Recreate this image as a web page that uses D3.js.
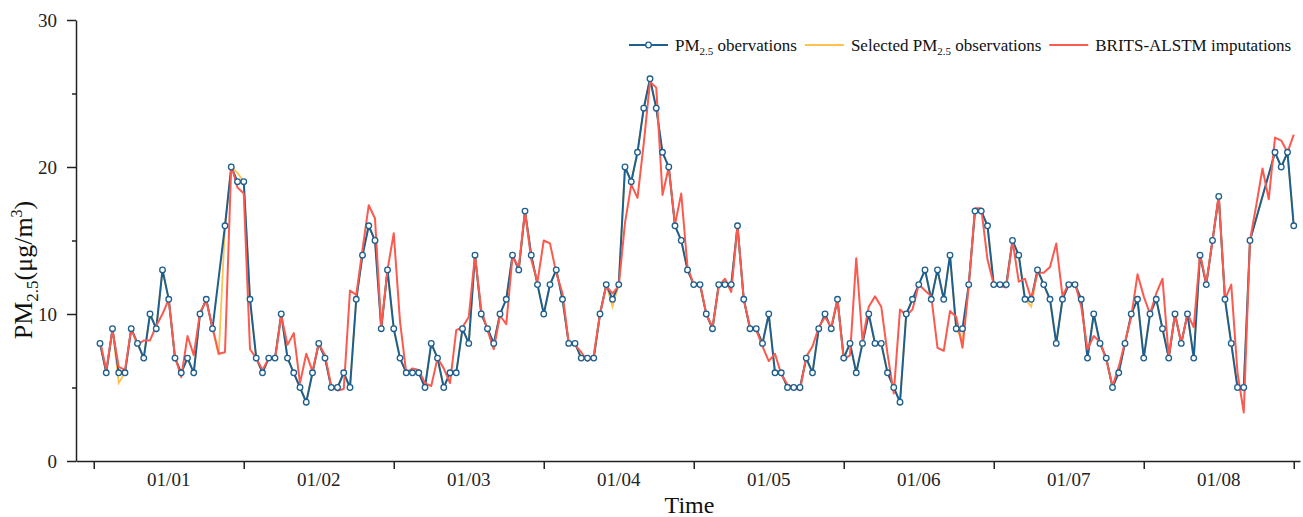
<!DOCTYPE html>
<html>
<head>
<meta charset="utf-8">
<title>PM2.5 imputation</title>
<script src="https://cdn.jsdelivr.net/npm/d3@7/dist/d3.min.js"></script>
<style>
    body { margin: 0; background: #fff; }
    svg { display: block; }
    .axis path, .axis line { stroke: #222; stroke-width: 1.5; }
</style>
</head>
<body>
<svg id="chart" width="1303" height="517"></svg>
<script>
// hourly values, hour 1 .. 192 (8 days)
var dayLabels = ['01/01', '01/02', '01/03', '01/04', '01/05', '01/06', '01/07', '01/08'];
var yTicks = [0, 10, 20, 30];
var yMinorTicks = [5, 15, 25];

var observations = [
    8, 6, 9, 6, 6, 9, 8, 7, 10, 9, 13, 11, 7, 6, 7, 6, 10, 11, 9, null, 16, 20, 19, 19,
    11, 7, 6, 7, 7, 10, 7, 6, 5, 4, 6, 8, 7, 5, 5, 6, 5, 11, 14, 16, 15, 9, 13, 9,
    7, 6, 6, 6, 5, 8, 7, 5, 6, 6, 9, 8, 14, 10, 9, 8, 10, 11, 14, 13, 17, 14, 12, 10,
    12, 13, 11, 8, 8, 7, 7, 7, 10, 12, 11, 12, 20, 19, 21, 24, 26, 24, 21, 20, 16, 15, 13, 12,
    12, 10, 9, 12, 12, 12, 16, 11, 9, 9, 8, 10, 6, 6, 5, 5, 5, 7, 6, 9, 10, 9, 11, 7,
    8, 6, 8, 10, 8, 8, 6, 5, 4, 10, 11, 12, 13, 11, 13, 11, 14, 9, 9, 12, 17, 17, 16, 12,
    12, 12, 15, 14, 11, 11, 13, 12, 11, 8, 11, 12, 12, 11, 7, 10, 8, 7, 5, 6, 8, 10, 11, 7,
    10, 11, 9, 7, 10, 8, 10, 7, 14, 12, 15, 18, 11, 8, 5, 5, 15, null, null, null, 21, 20, 21, 16
];

var selected = [
    8, 6, 9, 5.3, 6, 9, 8, 7, 10, 9, 13, 11, 7, 6, 7, 6, 10, 11, 9, 7.2, 16, 20, 19.6, 19,
    11, 7, 6, 7, 7, 10, 7, 6, 5, 4, 6, 8, 7, 5, 5, 6, 5, 11, 14, 16, 15, 9, 13, 9,
    7, 6, 6, 6, 5, 8, 7, 5, 6, 6, 9, 8, 14, 10, 9, 8, 10, 11, 14, 13, 17, 14, 12, 10,
    12, 13, 11, 8, 8, 7, 7, 7, 10, 12, 10.5, 12, 20, 19, 21, 24, 26, 24, 21, 20, 16, 15, 13, 12,
    12, 10, 9, 12, 12, 12, 16, 11, 9, 9, 8, 10, 6, 6, 5, 5, 5, 7, 6, 9, 10, 9, 11, 7,
    8, 6, 8, 10, 8, 8, 6, 5, 4, 10, 11, 12, 13, 11, 13, 11, 14, 9, 8.2, 12, 17, 17, 16, 12,
    12, 12, 15, 14, 11, 10.5, 13, 12, 11, 8, 11, 12, 12, 11, 7, 10, 8, 7, 5, 6, 8, 10, 11, 7,
    10, 11, 9, 7, 10, 8, 10, 7, 14, 12, 15, 18, 11, 8, 5, 5, 15, null, null, null, 21, 20, 21, 16
];

var imputations = [
    8.2, 6.2, 8.9, 6.4, 6.2, 9.0, 7.9, 8.2, 8.2, 9.2, 10.0, 11.0, 7.1, 5.7, 8.5, 7.2, 10.1, 10.9, 9.1, 7.3, 7.4, 20.1, 18.6, 18.2,
    7.6, 7.0, 6.2, 7.0, 6.9, 9.9, 7.9, 8.7, 5.3, 7.3, 6.1, 8.0, 7.2, 5.1, 4.8, 4.9, 11.6, 11.3, 14.4, 17.4, 16.5, 9.1, 13.0, 15.5,
    9.5, 6.0, 6.3, 6.2, 5.3, 5.1, 7.0, 6.3, 5.3, 8.9, 9.1, 9.8, 14.0, 10.3, 8.9, 7.6, 9.9, 9.3, 13.9, 13.2, 17.0, 13.7, 12.2, 15.0,
    14.8, 12.8, 11.4, 8.0, 7.9, 7.4, 6.8, 7.2, 10.0, 11.9, 11.4, 11.9, 16.2, 18.8, 17.9, 21.6, 25.8, 25.4, 18.1, 20.0, 16.1, 18.2, 13.2, 12.0,
    12.1, 10.0, 9.1, 11.9, 12.4, 11.5, 16.0, 11.0, 9.1, 8.9, 7.8, 6.8, 7.3, 5.9, 5.2, 5.0, 4.8, 7.1, 7.8, 9.1, 9.8, 9.1, 11.0, 6.9,
    7.2, 13.8, 8.2, 10.5, 11.2, 10.5, 7.3, 4.6, 10.3, 9.9, 10.3, 12.0, 11.6, 11.2, 7.7, 7.5, 10.2, 9.8, 7.7, 11.9, 17.2, 17.2, 13.7, 12.0,
    11.9, 11.8, 15.0, 12.2, 12.4, 11.0, 12.8, 12.8, 13.2, 14.8, 11.2, 12.1, 12.1, 10.5, 7.6, 8.5, 8.1, 6.9, 5.1, 6.4, 8.1, 9.8, 12.7, 11.2,
    10.0, 11.4, 12.4, 7.1, 10.0, 8.0, 10.0, 9.1, 14.1, 12.1, 15.0, 18.1, 11.0, 12.0, 6.0, 3.3, 15.0, 17.4, 19.9, 17.8, 22.0, 21.8, 21.0, 22.2
];

var colors = {obs: '#1d5f8e', sel: '#ffc24f', imp: '#fb5a4f'};
var serif = '"Liberation Serif", "Times New Roman", serif';

var svg = d3.select('#chart').attr('font-family', serif);
var margin = {top: 20, right: 3, bottom: 56, left: 76};
var W = +svg.attr('width'), H = +svg.attr('height');

// hour scale: day boundaries every 24 h
var x = d3.scaleLinear().domain([-2.84, 193]).range([margin.left, W - margin.right]);
var y = d3.scaleLinear().domain([0, 30]).range([H - margin.bottom, margin.top]);

function toPoints(arr) {
    return arr.map((v, i) => ({h: i + 1, v: v}));
}
var obsPts = toPoints(observations).filter(d => d.v !== null);
var selPts = toPoints(selected).filter(d => d.v !== null);
var impPts = toPoints(imputations);

var line = d3.line().x(d => x(d.h)).y(d => y(d.v));

//axes
var dayTicks = d3.range(0, 193, 24);
svg.append('g')
    .attr('class', 'axis')
    .attr('transform', 'translate(0,' + y(0) + ')')
    .call(d3.axisBottom(x).tickValues(dayTicks).tickSize(8).tickSizeOuter(0).tickFormat(''));

svg.append('g').selectAll('text')
    .data(dayLabels)
    .enter().append('text')
    .attr('x', (d, i) => x(12 + i * 24))
    .attr('y', y(0) + 25)
    .attr('text-anchor', 'middle')
    .attr('font-family', serif)
    .attr('font-size', 19)
    .attr('fill', '#222')
    .text(d => d);

svg.append('g')
    .attr('class', 'axis')
    .attr('transform', 'translate(' + margin.left + ',0)')
    .call(d3.axisLeft(y).tickValues(yTicks).tickSize(9).tickPadding(10).tickSizeOuter(0))
    .call(g => g.selectAll('text')
        .attr('font-family', serif)
        .attr('font-size', 19)
        .attr('fill', '#222'));

svg.append('g')
    .attr('class', 'axis')
    .attr('transform', 'translate(' + margin.left + ',0)')
    .call(d3.axisLeft(y).tickValues(yMinorTicks).tickSize(4).tickFormat(''))
    .select('.domain').remove();

//axis titles
svg.append('text')
    .attr('x', (margin.left + W) / 2)
    .attr('y', 513)
    .attr('text-anchor', 'middle')
    .attr('font-size', 24)
    .attr('fill', '#111')
    .text('Time');

var yt = svg.append('text')
    .attr('transform', 'translate(32,270) rotate(-90)')
    .attr('text-anchor', 'middle')
    .attr('font-size', 26)
    .attr('fill', '#111');
yt.append('tspan').text('PM');
yt.append('tspan').attr('font-size', 17).attr('dy', 6).text('2.5');
yt.append('tspan').attr('dy', -6).text('(μg/m');
yt.append('tspan').attr('font-size', 16).attr('dy', -10).text('3');
yt.append('tspan').attr('dy', 10).text(')');

//series
svg.append('path')
    .datum(selPts)
    .attr('fill', 'none')
    .attr('stroke', colors.sel)
    .attr('stroke-width', 1.8)
    .attr('d', line);

svg.append('path')
    .datum(obsPts)
    .attr('fill', 'none')
    .attr('stroke', colors.obs)
    .attr('stroke-width', 2)
    .attr('d', line);

svg.append('path')
    .datum(impPts)
    .attr('fill', 'none')
    .attr('stroke', colors.imp)
    .attr('stroke-width', 2)
    .attr('stroke-linejoin', 'round')
    .attr('d', line);

svg.append('g').selectAll('circle')
    .data(obsPts)
    .enter().append('circle')
    .attr('cx', d => x(d.h))
    .attr('cy', d => y(d.v))
    .attr('r', 2.8)
    .attr('fill', '#fff')
    .attr('stroke', colors.obs)
    .attr('stroke-width', 1.3);

//legend
var legendItems = [
    {key: 'obs', pre: 'PM', sub: '2.5', post: ' obervations'},
    {key: 'sel', pre: 'Selected PM', sub: '2.5', post: ' observations'},
    {key: 'imp', pre: 'BRITS-ALSTM imputations', sub: '', post: ''}
];
var lx = 629, ly = 45;
legendItems.forEach(function (it) {
    var g = svg.append('g');
    g.append('line')
        .attr('x1', lx).attr('x2', lx + 39)
        .attr('y1', ly).attr('y2', ly)
        .attr('stroke', colors[it.key])
        .attr('stroke-width', 2);
    if (it.key === 'obs') {
        g.append('circle')
            .attr('cx', lx + 19.5).attr('cy', ly).attr('r', 2.8)
            .attr('fill', '#fff').attr('stroke', colors.obs).attr('stroke-width', 1.3);
    }
    var t = g.append('text')
        .attr('x', lx + 46)
        .attr('y', ly + 6)
        .attr('font-size', 17)
        .attr('fill', '#111');
    t.append('tspan').text(it.pre);
    if (it.sub) {
        t.append('tspan').attr('font-size', 11).attr('dy', 4).text(it.sub);
        t.append('tspan').attr('dy', -4).text(it.post);
    }
    lx += 46 + t.node().getComputedTextLength() + 8;
});
</script>
</body>
</html>
